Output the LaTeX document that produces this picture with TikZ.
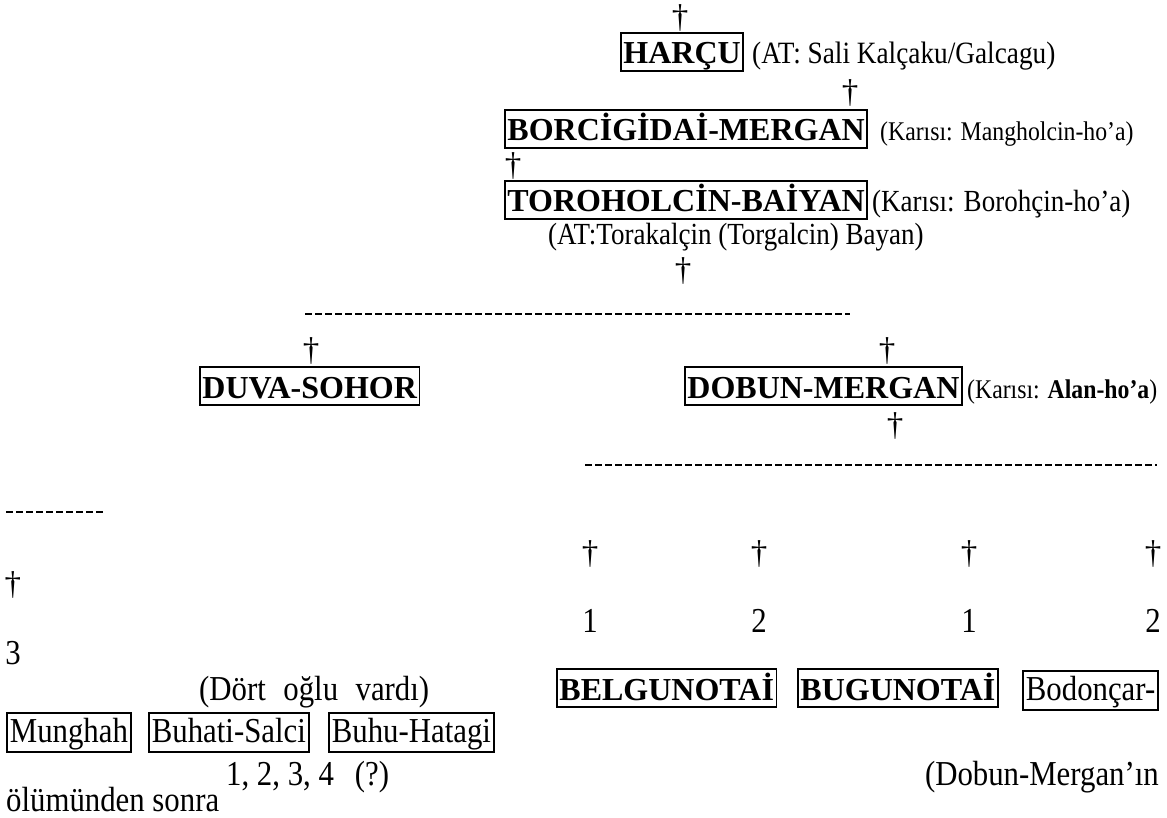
\documentclass[tikz,border=0pt]{standalone}
\usepackage{fontspec}
\setmainfont{Liberation Serif}
\newfontfamily\tallserif{Liberation Serif}[FakeStretch=0.88]
\usepackage{tikz}

\begin{document}
\begin{tikzpicture}[x=1pt,y=-1pt,
  namebox/.style={draw,line width=1.8pt,inner xsep=2.5pt,inner ysep=1pt,text height=30pt,text depth=6pt,anchor=base west,font=\bfseries\fontsize{32}{32}\selectfont},
  plainbox/.style={draw,line width=1.8pt,inner xsep=3pt,inner ysep=1pt,text height=28pt,text depth=9pt,anchor=base west,font=\tallserif\fontsize{35}{35}\selectfont},
  note/.style={inner sep=0pt,anchor=base west,font=\tallserif\fontsize{30.7}{31}\selectfont},
  bignote/.style={inner sep=0pt,anchor=base west,font=\tallserif\fontsize{35}{35}\selectfont},
  smallnote/.style={inner sep=0pt,anchor=base west,font=\tallserif\fontsize{27}{27}\selectfont},
  dag/.style={inner sep=0pt,anchor=base,font=\fontsize{33}{33}\selectfont},
  digit/.style={inner sep=0pt,anchor=base,font=\tallserif\fontsize{35}{35}\selectfont},
  dashrow/.style={line width=2.8pt,dash pattern=on 6.5pt off 3.5pt}]
\useasboundingbox (0,0) rectangle (1167,818);

% ancestors
\node[dag] (d1) at (680,28) {†};
\node[namebox] (harcu) at (620,64) {HARÇU};
\node[note,font=\tallserif\fontsize{31}{31}\selectfont] (harcuat) at (752,64) {(AT: Sali Kalçaku/Galcagu)};
\node[dag] (d2) at (850,103) {†};
\node[namebox] (borci) at (504,141) {BORCİGİDAİ-MERGAN};
\node[smallnote] (borciwife) at (880,141) {(Karısı: Mangholcin-ho’a)};
\node[dag] (d3) at (513,176) {†};
\node[namebox] (toro) at (504,212) {TOROHOLCİN-BAİYAN};
\node[note] (torowife) at (872,212) {(Karısı: Borohçin-ho’a)};
\node[note] (toroat) at (548,245) {(AT:Torakalçin (Torgalcin) Bayan)};
\node[dag] (d4) at (683,280) {†};

% two sons
\coordinate (r1a) at (305,314);
\coordinate (r1b) at (850,314);
\draw[dashrow] (r1a) -- (r1b);
\node[dag] (d5) at (311,360) {†};
\node[namebox] (duva) at (199,398) {DUVA-SOHOR};
\node[dag] (d6) at (887,360) {†};
\node[namebox] (dobun) at (684,398) {DOBUN-MERGAN};
\node[smallnote] (dobunwife) at (967,398) {(Karısı: \textbf{Alan-ho’a})};
\node[dag] (d7) at (895,435) {†};

% grandsons
\coordinate (r2a) at (585,465);
\coordinate (r2b) at (1157,465);
\draw[dashrow] (r2a) -- (r2b);
\coordinate (r3a) at (6,512);
\coordinate (r3b) at (106,512);
\draw[dashrow] (r3a) -- (r3b);
\foreach \x/\n [count=\i] in {590/1,759/2,969/1,1153/2}{
  \node[dag] (g\i) at (\x,563) {†};
  \node[digit] (n\i) at (\x,632) {\n};
}
\node[dag] (d8) at (13,594) {†};
\node[digit] (three) at (13,664) {3};
\node[bignote] (dort) at (199,700) {(Dört\hspace{0.5em}oğlu\hspace{0.5em}vardı)};
\node[namebox] (belgu) at (556,700) {BELGUNOTAİ};
\node[namebox] (bugu) at (797,700) {BUGUNOTAİ};
\node[plainbox] (bodon) at (1022,700) {Bodonçar-};
\node[plainbox] (munghah) at (6,742) {Munghah};
\node[plainbox] (buhati) at (148,742) {Buhati-Salci};
\node[plainbox] (buhu) at (328,742) {Buhu-Hatagi};
\node[bignote] (sira) at (226,785) {1, 2, 3, 4\hspace{0.6em}(?)};
\node[bignote,anchor=base east] (olumu) at (1159,785) {(Dobun-Mergan’ın};
\node[bignote] (sonra) at (6,811) {ölümünden sonra};
\end{tikzpicture}
\end{document}
